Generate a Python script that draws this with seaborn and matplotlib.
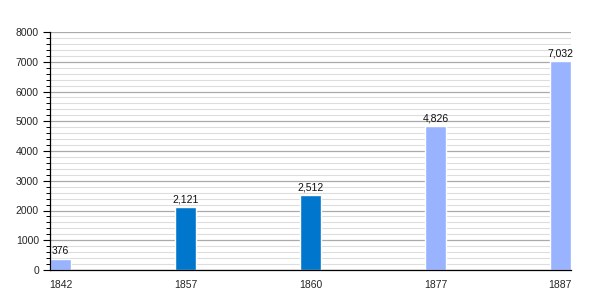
import matplotlib
matplotlib.use("Agg")
import matplotlib.pyplot as plt
import seaborn as sns
import pandas as pd
from matplotlib.ticker import MultipleLocator

years = ["1842", "1857", "1860", "1877", "1887"]
population = [376, 2121, 2512, 4826, 7032]
bar_colors = ["#99b3ff", "#0077cc", "#0077cc", "#99b3ff", "#99b3ff"]
value_labels = ["376", "2,121", "2,512", "4,826", "7,032"]

sns.set_theme(style="white")
plt.rcParams['font.family'] = ['Liberation Sans', 'DejaVu Sans']

df = pd.DataFrame({"year": years, "pop": population})

fig = plt.figure(figsize=(6, 3), dpi=100)
ax = fig.add_axes([50/600, 1-270/300, 521/600, 238/300])

sns.barplot(data=df, x="year", y="pop", hue="year", palette=bar_colors,
            width=0.17, legend=False, ax=ax, saturation=1)

ax.set_xlim(-0.085, 4.085)
ax.set_ylim(0, 8000)
ax.yaxis.set_major_locator(MultipleLocator(1000))
ax.yaxis.set_minor_locator(MultipleLocator(200))
ax.grid(which="major", axis="y", color="#aaaaaa", linewidth=0.9)
ax.grid(which="minor", axis="y", color="#dddddd", linewidth=0.8)
ax.set_axisbelow(True)

for i, c in enumerate(ax.containers):
    ax.bar_label(c, labels=[value_labels[i]], padding=2, fontsize=7.5, color="#111111")

ax.set_xlabel("")
ax.set_ylabel("")
for s in ["top", "right"]:
    ax.spines[s].set_visible(False)
ax.spines["left"].set_color("black")
ax.spines["bottom"].set_color("black")
ax.spines["left"].set_linewidth(0.9)
ax.spines["bottom"].set_linewidth(0.9)

ax.tick_params(axis="y", which="major", left=True, length=5, width=0.8, color="black",
               labelsize=7.5, pad=3)
ax.tick_params(axis="y", which="minor", left=True, length=3, width=0.7, color="black")
ax.tick_params(axis="x", bottom=False, labelsize=7.5, pad=1)

fig.savefig("out.png", dpi=100, facecolor="white")
